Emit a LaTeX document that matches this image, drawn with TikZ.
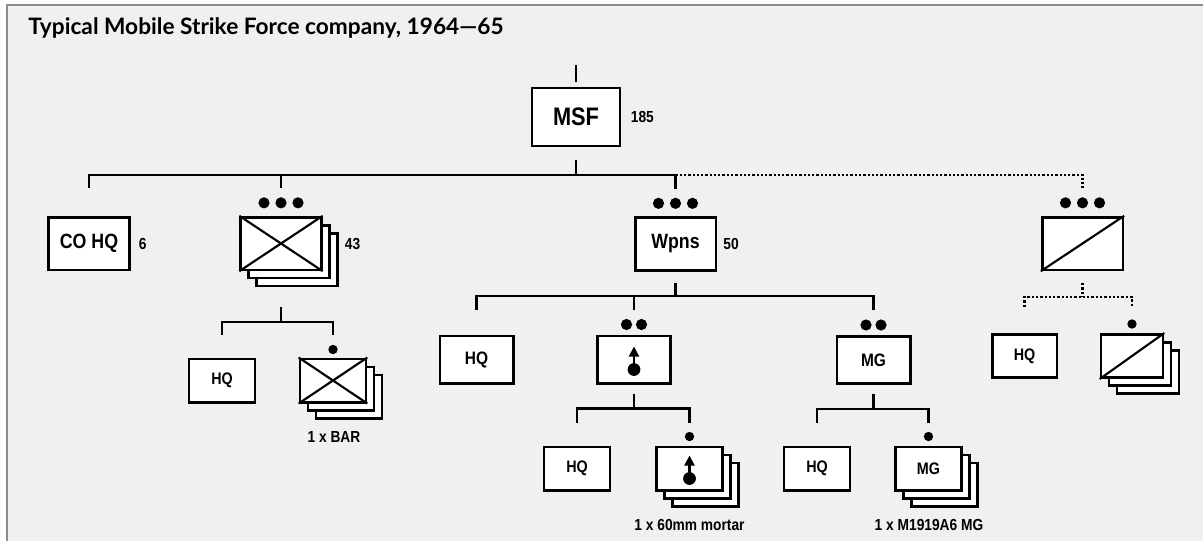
\documentclass[tikz,border=0pt]{standalone}
\usepackage{fontspec}
\newfontfamily\unitfont{Liberation Sans}[FakeStretch=0.86]
\newfontfamily\titlefont{Lato}
\usetikzlibrary{positioning,calc,shadows,arrows.meta}
\begin{document}
\begin{tikzpicture}[x=0.75pt,y=-0.75pt,
  unitbox/.style={draw,line width=2pt,fill=white,inner sep=0pt,
    drop shadow={opacity=.18,shadow xshift=1pt,shadow yshift=-1pt}},
  msfbox/.style={unitbox,minimum width=66pt,minimum height=43.5pt,
    font=\unitfont\bfseries\fontsize{19}{21}\selectfont},
  bigbox/.style={unitbox,minimum width=60.5pt,minimum height=39.5pt,
    font=\unitfont\bfseries\fontsize{15.5}{17}\selectfont},
  midbox/.style={unitbox,minimum width=55pt,minimum height=35.5pt,
    font=\unitfont\bfseries\fontsize{13.5}{15}\selectfont},
  smallbox/.style={unitbox,minimum width=49.5pt,minimum height=32.5pt,
    font=\unitfont\bfseries\fontsize{12.5}{14}\selectfont},
  stacked/.style={copy shadow={shadow xshift=12pt,shadow yshift=-12pt},
    copy shadow={shadow xshift=6pt,shadow yshift=-6pt}},
  link/.style={line width=1.6pt},
  dotlink/.style={link,dash pattern=on 1.7pt off 1.5pt},
  echdot/.style={circle,fill,inner sep=0pt,minimum size=8.4pt},
  numlabel/.style={inner sep=0pt,font=\unitfont\bfseries\fontsize{12}{14}\selectfont},
  captext/.style={inner sep=0pt,font=\unitfont\bfseries\fontsize{12}{14}\selectfont}]
  \useasboundingbox (0,0) rectangle (1203,540);
  \fill[white] (0,0) rectangle (1203,540);
  \draw[fill=black!6,draw=black!45,line width=1.5pt] (7,5) rectangle (1215,550);
  \node[anchor=base west,inner sep=0pt,
    font=\titlefont\bfseries\fontsize{17}{20}\selectfont] (title) at (28,34)
    {Typical Mobile Strike Force company, 1964—65};

  % company
  \node[msfbox] (msf) at (576,117) {MSF};
  \node[numlabel,right=7pt of msf] (msf-n) {185};

  % platoons
  \node[bigbox] (cohq) at (89,243.5) {CO HQ};
  \node[numlabel,right=6pt of cohq] (cohq-n) {6};
  \node[bigbox,stacked] (plt) at (281,243.5) {};
  \node[numlabel,right=16.5pt of plt] (plt-n) {43};
  \node[bigbox] (wpns) at (675.5,244) {Wpns};
  \node[numlabel,right=4.5pt of wpns] (wpns-n) {50};
  \node[bigbox] (wplt) at (1082.5,243.5) {};

  % sections
  \node[smallbox] (hq1) at (222,380.5) {HQ};
  \node[smallbox,stacked] (sq) at (333,380.5) {};
  \node[midbox] (hq2) at (476.5,359.5) {HQ};
  \node[midbox] (mor) at (634,359.5) {};
  \node[midbox] (mg) at (873.5,360) {MG};
  \node[smallbox,minimum width=48.5pt] (hq5) at (1024.5,356) {HQ};
  \node[smallbox,stacked,minimum width=46.5pt] (wsq) at (1132,356) {};

  % squads
  \node[smallbox] (hq3) at (577,468.5) {HQ};
  \node[smallbox,stacked] (morsq) at (689.5,468.5) {};
  \node[smallbox] (hq4) at (817,468.5) {HQ};
  \node[smallbox,stacked] (mgsq) at (928.5,468.5) {MG};

  \node[captext] (sq-cap) at (334,437) {1 x BAR};
  \node[captext] (morsq-cap) at (689.5,525) {1 x 60mm mortar};
  \node[captext] (mgsq-cap) at (929,525) {1 x M1919A6 MG};

  % symbols
  \draw[link] (plt.south west) -- (plt.north east) (plt.north west) -- (plt.south east);
  \draw[link] (sq.south west) -- (sq.north east) (sq.north west) -- (sq.south east);
  \draw[link] (wplt.south west) -- (wplt.north east);
  \draw[link] (wsq.south west) -- (wsq.north east);
  \foreach \u in {mor,morsq}{
    \fill ($(\u.center)+(0,10)$) circle (4.8pt);
    \draw[link,-{Triangle[width=7.5pt,length=7.5pt]}]
      ($(\u.center)+(0,10)$) -- ($(\u.center)+(0,-13)$);
  }

  % echelon dots
  \foreach \u in {plt,wpns,wplt}
    \foreach \i/\d in {1/-17,2/0,3/17}
      \node[echdot] (\u-e\i) at ($(\u.north)+(\d,-13)$) {};
  \foreach \u in {mor,mg}
    \foreach \i/\d in {1/-7.5,2/7.5}
      \node[echdot] (\u-e\i) at ($(\u.north)+(\d,-10)$) {};
  \foreach \u/\h in {sq/-8,wsq/-9,morsq/-9,mgsq/-9}
    \node[echdot,minimum size=7pt] (\u-e) at ($(\u.north)+(0,\h)$) {};

  % connectors
  \coordinate (msf-in) at (576,65);
  \draw[link] (msf-in) -- ($(msf.north)+(0,-5)$);
  \draw[link] ($(msf.south)+(0,13)$) -- ++(0,15) coordinate (bus0);
  \draw[link] ($(cohq.north)+(0,-28)$) |- (wpns.north |- bus0)
    -- ($(wpns.north)+(0,-27)$);
  \draw[link] (plt.north |- bus0) -- ($(plt.north)+(0,-28)$);
  \draw[dotlink] (wpns.north |- bus0) -| ($(wplt.north)+(0,-28)$);

  \draw[link] ($(plt.south)+(0,36)$) -- ++(0,15) coordinate (bus1);
  \draw[link] ($(hq1.north)+(0,-23)$) |- (bus1) -| ($(sq.north)+(0,-23)$);

  \draw[link] ($(wpns.south)+(0,11)$) -- ++(0,13) coordinate (bus2);
  \draw[link] ($(hq2.north)+(0,-25)$) |- (bus2) -| ($(mg.north)+(0,-25)$);
  \draw[link] (mor.north |- bus2) -- ($(mor.north)+(0,-25)$);

  \draw[link] ($(mor.south)+(0,9)$) -- ++(0,15) coordinate (bus3);
  \draw[link] ($(hq3.north)+(0,-23)$) |- (bus3) -| ($(morsq.north)+(0,-23)$);
  \draw[link] ($(mg.south)+(0,9)$) -- ++(0,15) coordinate (bus5);
  \draw[link] ($(hq4.north)+(0,-23)$) |- (bus5) -| ($(mgsq.north)+(0,-23)$);

  \draw[dotlink] ($(wplt.south)+(0,12)$) -- ++(0,14) coordinate (bus4);
  \draw[dotlink] ($(hq5.north)+(0,-26)$) |- (bus4) -| ($(wsq.north)+(0,-26)$);
\end{tikzpicture}
\end{document}
